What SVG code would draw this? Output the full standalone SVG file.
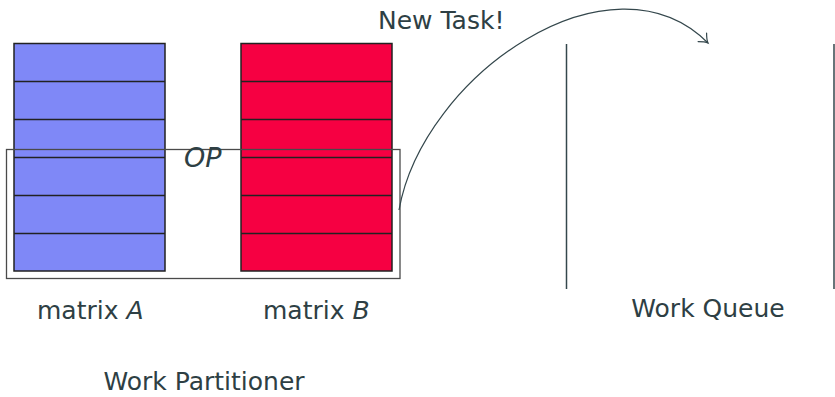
<svg xmlns="http://www.w3.org/2000/svg" width="835" height="397" viewBox="0 0 835 397">
  <style>
    .t { font-family: "DejaVu Sans", "Liberation Sans", sans-serif; font-size: 25px; fill: #2e3f44; }
    .it { font-style: italic; }
    .row { stroke: #222; stroke-width: 1.5; }
    .a { fill: #7f88f7; }
    .b { fill: #f60042; }
    .ql { stroke: #34474c; stroke-width: 1.5; }
  </style>
  <defs>
    <marker id="arr" markerUnits="userSpaceOnUse" markerWidth="20" markerHeight="20" refX="0" refY="0" viewBox="-12 -10 14 20" orient="auto">
      <path d="M -8 -6 Q -3 -1 0 0 Q -3 1 -8 6" fill="none" stroke="#34474c" stroke-width="1.2" stroke-linecap="round"/>
    </marker>
  </defs>
  <g id="matrixA">
    <rect class="a row" x="14" y="43.5" width="151" height="227.5"/>
    <line class="row" x1="14" y1="81.5" x2="165" y2="81.5"/>
    <line class="row" x1="14" y1="119.5" x2="165" y2="119.5"/>
    <line class="row" x1="14" y1="157.5" x2="165" y2="157.5"/>
    <line class="row" x1="14" y1="195.5" x2="165" y2="195.5"/>
    <line class="row" x1="14" y1="233.5" x2="165" y2="233.5"/>
    <text class="t" x="37" y="318.5">matrix <tspan class="it">A</tspan></text>
  </g>
  <g id="matrixB">
    <rect class="b row" x="241" y="43.5" width="151" height="227.5"/>
    <line class="row" x1="241" y1="81.5" x2="392" y2="81.5"/>
    <line class="row" x1="241" y1="119.5" x2="392" y2="119.5"/>
    <line class="row" x1="241" y1="157.5" x2="392" y2="157.5"/>
    <line class="row" x1="241" y1="195.5" x2="392" y2="195.5"/>
    <line class="row" x1="241" y1="233.5" x2="392" y2="233.5"/>
    <text class="t" x="263" y="318.5">matrix <tspan class="it">B</tspan></text>
  </g>
  <g id="partitioner">
    <rect x="6.5" y="149.5" width="393.5" height="129" fill="none" stroke="#4a4a4a" stroke-width="1.3"/>
    <text class="t it" x="184" y="166.5" style="font-size:27px">OP</text>
    <text class="t" x="204" y="390" text-anchor="middle">Work Partitioner</text>
  </g>
  <g id="queue">
    <line class="ql" x1="566.5" y1="44" x2="566.5" y2="289"/>
    <line class="ql" x1="834" y1="44" x2="834" y2="289"/>
    <text class="t" x="708" y="317" text-anchor="middle">Work Queue</text>
  </g>
  <g id="connectors">
    <path d="M 399 210 C 423 75 611 -54 708 43" fill="none" stroke="#34474c" stroke-width="1.2" marker-end="url(#arr)"/>
    <text class="t" x="378" y="28.5">New Task!</text>
  </g>
</svg>
